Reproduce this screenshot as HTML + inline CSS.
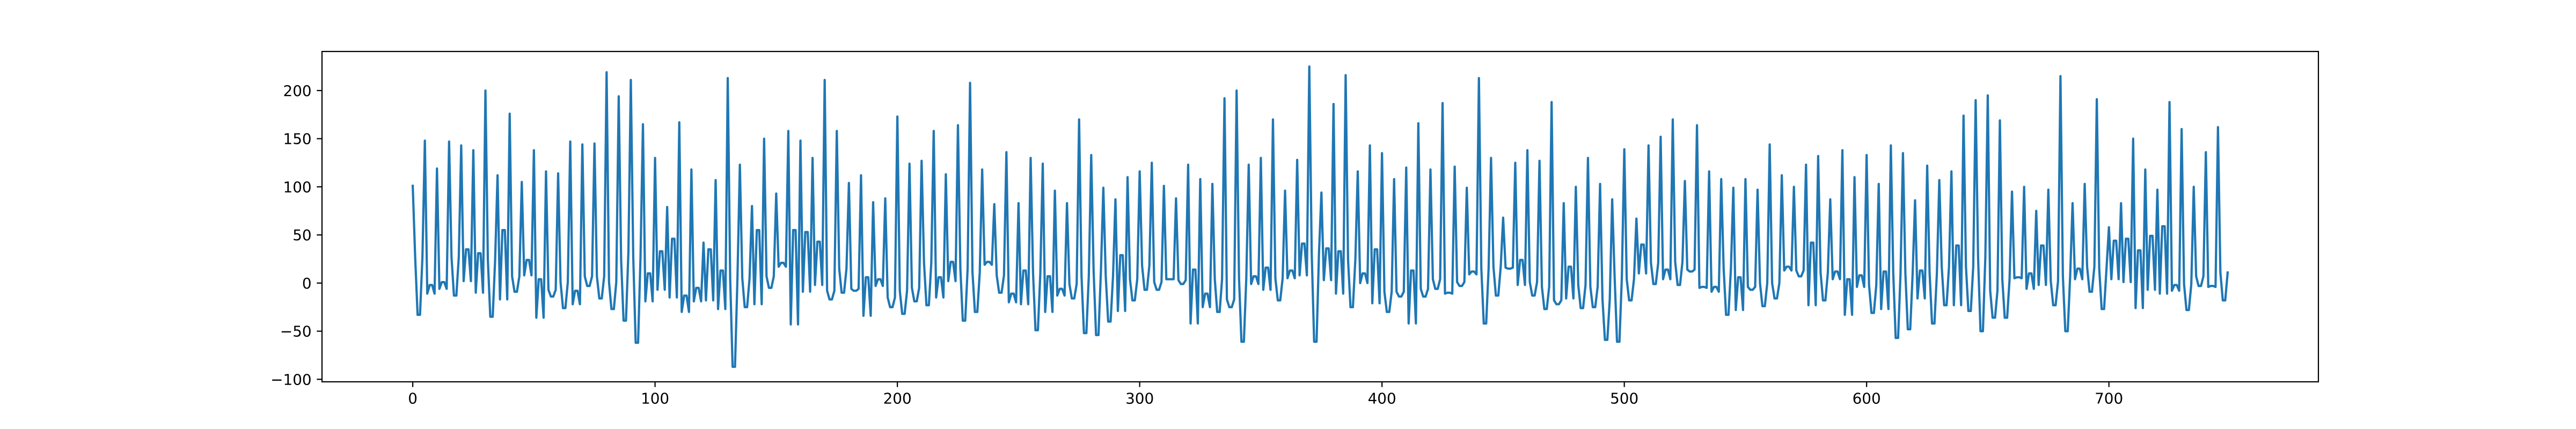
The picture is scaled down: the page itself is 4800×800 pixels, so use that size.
<!DOCTYPE html>
<html><head><meta charset="utf-8"><style>
html,body{margin:0;padding:0;background:#fff;}
svg{display:block;font-family:"DejaVu Sans","Liberation Sans",sans-serif;}
</style></head><body>
<svg id="chart" width="4800" height="800" viewBox="0 0 4800 800" xmlns="http://www.w3.org/2000/svg">
<rect x="0" y="0" width="4800" height="800" fill="#fff"/>
<g id="xticks"></g>
<g id="yticks"></g>
<path id="series" fill="none" stroke="#1f77b4" stroke-width="4.2" stroke-linejoin="round" stroke-linecap="square"/>
<rect x="600" y="96" width="3720" height="616" fill="none" stroke="#000" stroke-width="2.2"/>
</svg>
<script>
const values = [
101,27,-33,-33,27, 148,-11,-2,-2,-11, 119,-6,1,1,-6, 147,27,-13,-13,27, 143,2,35,35,2,
138,-10,31,31,-10, 200,24,-35,-35,24, 112,-17,55,55,-17, 176,7,-9,-9,7, 105,8,24,24,8,
138,-36,4,4,-36, 116,-7,-14,-14,-7, 114,1,-26,-26,1, 147,-22,-8,-8,-22, 144,7,-3,-3,7,
145,7,-16,-16,7, 219,1,-27,-27,1, 194,24,-39,-39,32, 211,27,-62,-62,27, 165,-19,10,10,-19,
130,-7,33,33,-7, 79,-15,46,46,-15, 167,-30,-13,-13,-30, 118,-19,-5,-5,-19, 42,-18,35,35,-18,
107,-27,13,13,-27, 213,5,-87,-87,5, 123,5,-25,-25,5, 80,-22,55,55,-22, 150,7,-5,-5,7,
93,17,21,21,17, 158,-43,55,55,-43, 148,-9,53,53,-9, 130,-2,43,43,-2, 211,-8,-17,-17,-8,
158,15,-10,-10,15, 104,-6,-8,-8,-6, 112,-34,6,6,-34, 84,-3,4,4,-3, 88,-15,-25,-25,-15,
173,-8,-32,-32,-8, 124,-5,-19,-19,-5, 127,21,-23,-23,21, 158,-15,6,6,-15, 113,2,22,22,2,
164,15,-39,-39,15, 208,11,-30,-30,11, 118,19,22,22,19, 82,8,-10,-10,8, 136,-20,-11,-11,-20,
83,-22,13,13,-22, 130,10,-49,-49,10, 124,-30,7,7,-30, 96,-13,-6,-6,-13, 83,-1,-16,-16,-1,
170,7,-52,-52,7, 133,12,-54,-54,12, 99,7,-40,-40,7, 87,-29,29,29,-29, 110,4,-18,-18,4,
116,18,-7,-7,18, 125,1,-7,-7,1, 101,4,4,4,4, 88,3,-1,-1,3, 123,-42,14,14,-42,
108,-25,-11,-11,-25, 103,4,-30,-30,4, 192,-17,-25,-25,-17, 200,5,-61,-61,5, 123,-1,7,7,-1,
130,-7,16,16,-7, 170,5,-18,-18,5, 96,5,13,13,5, 128,8,41,41,8, 225,31,-61,-61,31,
94,3,36,36,3, 186,-11,33,33,-11, 216,24,-25,-25,24, 116,0,10,10,0, 143,-21,35,35,-21,
135,-9,-30,-30,-9, 108,-9,-14,-14,-9, 120,-42,13,13,-42, 166,-6,-14,-14,-6, 118,4,-6,-6,4,
187,-11,-10,-10,-11, 121,1,-3,-3,1, 99,9,12,12,9, 213,15,-42,-42,15, 130,17,-13,-13,17,
68,16,15,15,16, 125,-2,24,24,-2, 138,1,-13,-13,1, 127,-4,-27,-27,-4, 188,-18,-22,-22,-18,
83,-16,17,17,-16, 100,-2,-26,-26,-2, 130,-4,-25,-25,-4, 103,-17,-59,-59,-17, 87,7,-61,-61,7,
139,4,-18,-18,4, 67,10,40,40,10, 143,21,-1,-1,21, 152,4,14,14,4, 170,22,-2,-2,22,
106,14,12,12,14, 164,-5,-4,-4,-5, 116,-9,-4,-4,-9, 108,15,-33,-33,15, 99,-28,6,6,-28,
108,-4,-7,-7,-4, 97,0,-24,-24,0, 144,0,-16,-16,0, 112,13,17,17,13, 100,13,7,7,13,
123,-23,42,42,-23, 132,11,-18,-18,11, 87,4,12,12,4, 138,-33,4,4,-33, 110,-4,8,8,-4,
133,-2,-31,-31,-2, 103,-27,12,12,-27, 143,10,-57,-57,10, 135,10,-48,-48,10, 86,-16,13,13,-16,
122,10,-42,-42,10, 107,17,-23,-23,17, 116,-23,39,39,-23, 174,17,-29,-29,17, 190,27,-50,-50,27,
195,-8,-36,-36,-8, 169,4,-36,-36,4, 95,5,6,6,5, 100,-6,10,10,-6, 75,-2,39,39,-2,
97,2,-23,-23,2, 215,7,-50,-50,7, 83,4,15,15,4, 103,17,-9,-9,17, 191,15,-27,-27,15,
58,4,44,44,4, 83,1,46,46,1, 150,-26,34,34,-26, 118,-7,49,49,-7, 97,-11,59,59,-11,
188,-8,-2,-2,-8, 160,-1,-28,-28,-1, 100,7,-3,-3,7, 136,-4,-3,-3,-4, 162,11,-18,-18,11
];
const xTickValues = [0,100,200,300,400,500,600,700];
const yTickValues = [-100,-50,0,50,100,150,200];

const L=600,R=4320,T=96,B=712;
const n=values.length;
const xmin=0-0.05*(n-1), xmax=(n-1)*1.05;
const vmin=Math.min(...values), vmax=Math.max(...values), vr=vmax-vmin;
const ymin=vmin-0.05*vr, ymax=vmax+0.05*vr;
function xs(v){return L+(v-xmin)/(xmax-xmin)*(R-L);}
function ys(v){return B-(v-ymin)/(ymax-ymin)*(B-T);}
const NS="http://www.w3.org/2000/svg";

let d="";
values.forEach((v,i)=>{d+=(i?"L":"M")+xs(i).toFixed(2)+","+ys(v).toFixed(2);});
document.getElementById("series").setAttribute("d",d);

const gx=document.getElementById("xticks");
xTickValues.forEach(t=>{
  const x=xs(t);
  const ln=document.createElementNS(NS,"line");
  
  
  ln.setAttribute("x1",x);ln.setAttribute("x2",x);ln.setAttribute("y1",B);ln.setAttribute("y2",B+9.7);
  ln.setAttribute("stroke","#000");ln.setAttribute("stroke-width","2.2");
  gx.appendChild(ln);
  const tx=document.createElementNS(NS,"text");
  
  
  tx.setAttribute("x",x);tx.setAttribute("y",B+19.4+21);
  tx.setAttribute("text-anchor","middle");tx.setAttribute("font-size","27.8");
  tx.textContent=String(t);
  gx.appendChild(tx);
});
const gy=document.getElementById("yticks");
yTickValues.forEach(t=>{
  const y=ys(t);
  const ln=document.createElementNS(NS,"line");
  
  
  ln.setAttribute("x1",L-9.7);ln.setAttribute("x2",L);ln.setAttribute("y1",y);ln.setAttribute("y2",y);
  ln.setAttribute("stroke","#000");ln.setAttribute("stroke-width","2.2");
  gy.appendChild(ln);
  const tx=document.createElementNS(NS,"text");
  
  
  tx.setAttribute("x",L-19.4);tx.setAttribute("y",y+10);
  tx.setAttribute("text-anchor","end");tx.setAttribute("font-size","27.8");
  tx.textContent=(t<0?"\u2212":"")+Math.abs(t);
  gy.appendChild(tx);
});
</script>
</body></html>
